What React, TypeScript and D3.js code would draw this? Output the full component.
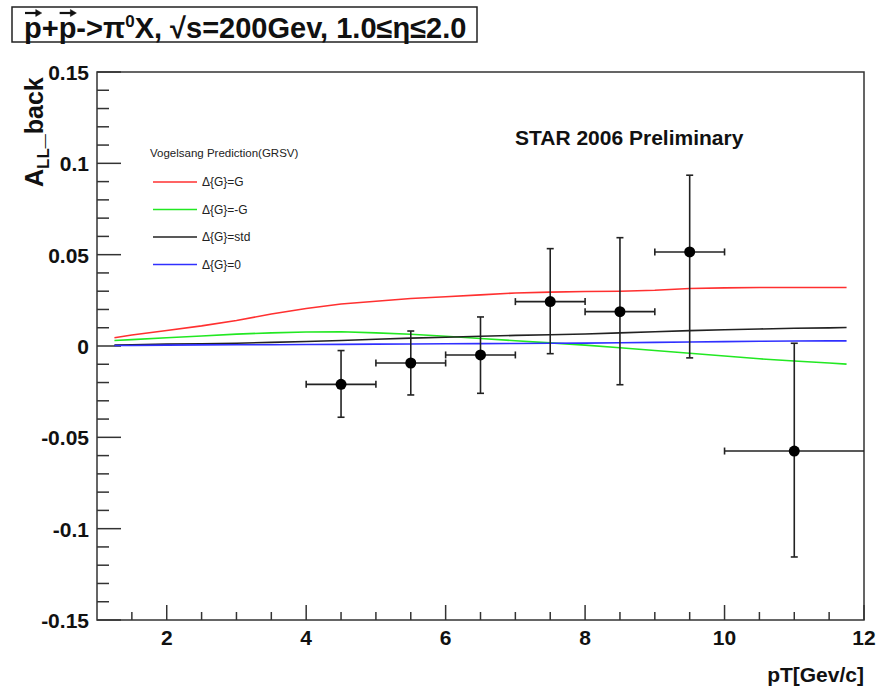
import React, { useEffect, useRef, useState } from "react";
import * as d3 from "d3";

// ---- Data ----
const curveX = [1.25, 1.5, 2, 2.5, 3, 3.5, 4, 4.5, 5, 5.5, 6, 6.5, 7, 7.5, 8, 8.5, 9, 9.5, 10, 10.5, 11, 11.5, 11.75];
const redG = [0.0045, 0.006, 0.0085, 0.011, 0.014, 0.0175, 0.0205, 0.023, 0.0245, 0.026, 0.027, 0.028, 0.029, 0.0295, 0.0298, 0.03, 0.0305, 0.0315, 0.0318, 0.032, 0.032, 0.032, 0.032];
const greenMinusG = [0.003, 0.0035, 0.0045, 0.0055, 0.0065, 0.0072, 0.0077, 0.0078, 0.0072, 0.0064, 0.0053, 0.0041, 0.0029, 0.0017, 0.0005, -0.001, -0.0025, -0.004, -0.0055, -0.007, -0.0082, -0.0093, -0.0099];
const blackStd = [0.0005, 0.0007, 0.001, 0.0012, 0.0015, 0.002, 0.0025, 0.003, 0.0037, 0.0043, 0.0048, 0.0053, 0.0058, 0.0062, 0.0066, 0.0072, 0.0078, 0.0084, 0.0089, 0.0093, 0.0097, 0.0099, 0.0101];
const blueZero = [0.0003, 0.0003, 0.0005, 0.0006, 0.0007, 0.0007, 0.0008, 0.0009, 0.001, 0.0011, 0.0012, 0.0013, 0.0014, 0.0015, 0.0016, 0.0018, 0.002, 0.0022, 0.0024, 0.0026, 0.0027, 0.0028, 0.0028];

const seriesNames = ["\u0394{G}=G", "\u0394{G}=-G", "\u0394{G}=std", "\u0394{G}=0"];
const seriesColors = ["#ff3030", "#22e822", "#222222", "#3030ff"];
const seriesValues = [redG, greenMinusG, blackStd, blueZero];

const ptX = [4.5, 5.5, 6.5, 7.5, 8.5, 9.5, 11];
const ptY = [-0.021, -0.0093, -0.0049, 0.0243, 0.0188, 0.0515, -0.0575];
const ptErrLow = [0.018, 0.0175, 0.021, 0.0285, 0.04, 0.058, 0.058];
const ptErrHigh = [0.0185, 0.0175, 0.0208, 0.029, 0.0405, 0.042, 0.059];
const ptErrX = [0.5, 0.5, 0.5, 0.5, 0.5, 0.5, 1.0];

const xMajorTicks = [2, 4, 6, 8, 10, 12];
const yMajorTicks = [-0.15, -0.1, -0.05, 0, 0.05, 0.1, 0.15];
const yTickLabels = ["-0.15", "-0.1", "-0.05", "0", "0.05", "0.1", "0.15"];

const W = 892, H = 690;
const L = 97, R = 864, T = 72, B = 620;

export default function App() {
  const x = d3.scaleLinear().domain([1, 12]).range([L, R]);
  const y = d3.scaleLinear().domain([-0.15, 0.15]).range([B, T]);
  const line = d3.line<[number, number]>().x((d) => x(d[0])).y((d) => y(d[1]));

  const xMinor = d3.range(1.5, 12, 0.5).filter((v) => Math.abs(v - Math.round(v / 2) * 2) > 1e-6);
  const yMinor = d3.range(-15, 16, 1).map((v) => v / 100).filter((v) => !yMajorTicks.some((m) => Math.abs(m - v) < 1e-6));

  const titleRef = useRef<SVGTextElement>(null);
  const [arrows, setArrows] = useState<{ x1: number; x2: number }[]>([]);
  useEffect(() => {
    const t = titleRef.current;
    if (!t) return;
    const out: { x1: number; x2: number }[] = [];
    for (const i of [0, 2]) {
      const e = t.getExtentOfChar(i);
      out.push({ x1: e.x + 1, x2: e.x + e.width - 1 });
    }
    setArrows(out);
  }, []);

  const bold = { fontFamily: "'Liberation Sans', Arial, Helvetica, sans-serif", fontWeight: 700 } as const;
  const reg = { fontFamily: "'Liberation Sans', Arial, Helvetica, sans-serif" } as const;

  return (
    <svg width={W} height={H} style={{ position: "absolute", left: 0, top: 0, background: "#fff" }}>
      <rect x={0} y={0} width={W} height={H} fill="#fff" />
      {/* Title box */}
      <rect x={12} y={7} width={465} height={35} fill="#fff" stroke="#222" strokeWidth={1.5} />
      <text ref={titleRef} x={24} y={37.5} fontSize={29} {...bold} fill="#111">
        <tspan>p+p-&gt;π</tspan>
        <tspan fontSize={17} dy={-11}>0</tspan>
        <tspan dy={11}>X, √s=200Gev, 1.0≤η≤2.0</tspan>
      </text>
      {arrows.map((a, i) => (
        <g key={i} stroke="#111" strokeWidth={2.2} fill="#111">
          <line x1={a.x1} x2={a.x2 - 2} y1={13} y2={13} />
          <path d={`M${a.x2 + 1},13 L${a.x2 - 5},9.5 L${a.x2 - 5},16.5 Z`} strokeWidth={0.5} />
        </g>
      ))}

      {/* Frame */}
      <rect x={L} y={T} width={R - L} height={B - T} fill="none" stroke="#333" strokeWidth={1.5} />

      {/* Y ticks */}
      {yMajorTicks.map((v, i) => (
        <g key={"ym" + i}>
          <line x1={L} x2={L + 24} y1={y(v)} y2={y(v)} stroke="#333" strokeWidth={1.5} />
          <text x={89} y={y(v)} dy="0.38em" textAnchor="end" fontSize={21} {...bold} fill="#111">
            {yTickLabels[i]}
          </text>
        </g>
      ))}
      {yMinor.map((v, i) => (
        <line key={"yn" + i} x1={L} x2={L + 12} y1={y(v)} y2={y(v)} stroke="#333" strokeWidth={1.5} />
      ))}

      {/* X ticks */}
      {xMajorTicks.map((v, i) => (
        <g key={"xm" + i}>
          <line x1={x(v)} x2={x(v)} y1={B} y2={B - 15} stroke="#333" strokeWidth={1.5} />
          <text x={x(v)} y={645} textAnchor="middle" fontSize={21} {...bold} fill="#111">
            {v}
          </text>
        </g>
      ))}
      {xMinor.map((v, i) => (
        <line key={"xn" + i} x1={x(v)} x2={x(v)} y1={B} y2={B - 8} stroke="#333" strokeWidth={1.5} />
      ))}

      {/* Axis titles */}
      <text x={R} y={682} textAnchor="end" fontSize={21} {...bold} fill="#111">
        pT[Gev/c]
      </text>
      <text transform={`translate(43,187) rotate(-90)`} fontSize={25} {...bold} fill="#111">
        A<tspan fontSize={17} dy={6}>LL</tspan>
        <tspan dy={-6}>_back</tspan>
      </text>

      {/* Theory curves */}
      {seriesValues.map((vals, i) => (
        <path
          key={"c" + i}
          d={line(curveX.map((cx, j) => [cx, vals[j]] as [number, number])) || ""}
          fill="none"
          stroke={seriesColors[i]}
          strokeWidth={1.6}
        />
      ))}

      {/* Data points */}
      {ptX.map((px, i) => {
        const cx = x(px);
        const cy = y(ptY[i]);
        const xl = x(Math.max(1, px - ptErrX[i]));
        const xr = x(Math.min(12, px + ptErrX[i]));
        const yt = y(ptY[i] + ptErrHigh[i]);
        const yb = y(ptY[i] - ptErrLow[i]);
        return (
          <g key={"p" + i} stroke="#222" strokeWidth={1.6}>
            <line x1={xl} x2={xr} y1={cy} y2={cy} />
            <line x1={cx} x2={cx} y1={yt} y2={yb} />
            <line x1={cx - 3.5} x2={cx + 3.5} y1={yt} y2={yt} />
            <line x1={cx - 3.5} x2={cx + 3.5} y1={yb} y2={yb} />
            <line x1={xl} x2={xl} y1={cy - 3.5} y2={cy + 3.5} />
            {px + ptErrX[i] <= 12 - 1e-9 && <line x1={xr} x2={xr} y1={cy - 3.5} y2={cy + 3.5} />}
            <circle cx={cx} cy={cy} r={5.5} fill="#000" stroke="none" />
          </g>
        );
      })}

      {/* Legend */}
      <text x={150} y={153} dy="0.35em" fontSize={11.5} {...reg} fill="#222">
        Vogelsang Prediction(GRSV)
      </text>
      {seriesNames.map((n, i) => (
        <g key={"l" + i}>
          <line x1={153} x2={197} y1={182 + i * 27.5} y2={182 + i * 27.5} stroke={seriesColors[i]} strokeWidth={1.6} />
          <text x={202} y={182 + i * 27.5} dy="0.35em" fontSize={12} {...reg} fill="#222">
            {n}
          </text>
        </g>
      ))}

      {/* Annotation */}
      <text x={515} y={145} fontSize={21} {...bold} fill="#111">
        STAR 2006 Preliminary
      </text>
    </svg>
  );
}
